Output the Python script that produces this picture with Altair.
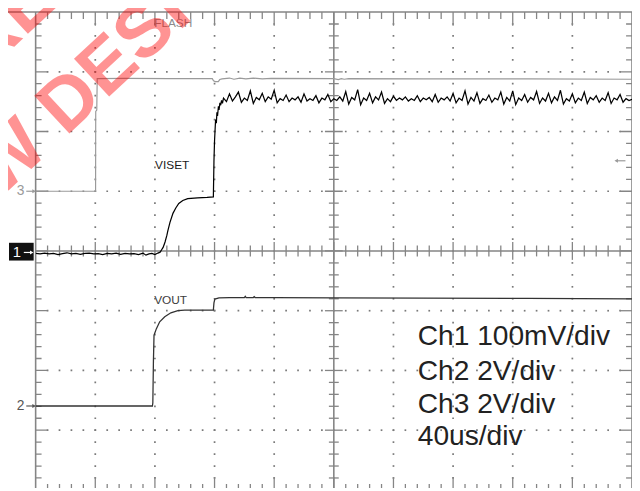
import altair as alt
import pandas as pd

# ---------------- scope settings ----------------
US_PER_DIV = 40           # 40us/div, 10 horizontal divisions
CH1_MV_PER_DIV = 100      # Ch1 100mV/div  (VISET)
CH2_V_PER_DIV = 2         # Ch2 2V/div     (VOUT)
CH3_V_PER_DIV = 2         # Ch3 2V/div     (FLASH)
CH1_ZERO_DIV = 0.0        # ground markers, divisions from screen centre
CH2_ZERO_DIV = -2.595
CH3_ZERO_DIV = 1.0

# ---------------- traces (time in us) ----------------
# Ch3 FLASH, volts
flash_t = [0, 40.2, 40.3, 41.0, 41.3, 60, 90, 118.5, 119.3, 120.5, 122.5, 123.5, 125,
           130, 133, 137, 141, 146, 152, 158, 200, 203, 205, 207, 210, 260, 330, 400]
flash_v = [0, 0, 2.67, 2.72, 3.77, 3.78, 3.77, 3.77, 3.70, 3.67, 3.67, 3.74, 3.76,
           3.79, 3.75, 3.79, 3.76, 3.79, 3.76, 3.78, 3.77, 3.74, 3.77, 3.75, 3.77, 3.76, 3.76, 3.75]

# Ch1 VISET, millivolts: baseline, soft-start ramp and fast step
viset_t = [0, 3, 6, 9, 12, 15, 18, 21, 24, 27, 30, 33, 36, 39, 42, 45, 48, 51, 54, 57,
           60, 63, 66, 69, 72, 74, 76, 78, 80, 82, 83.5,
           84.5, 85.5, 86.8, 88, 88.7, 90.1, 92.1, 94, 96, 98.7, 102, 108.6, 115, 119.2,
           119.6, 120.0, 120.3, 120.7, 121.2, 121.6, 122.0, 122.6, 123.0, 123.6, 124.1, 124.7, 125.3]
viset_mv = [-4, -5, -3.5, -5, -4, -6, -4.5, -3, -5, -4, -5.5, -4, -3.5, -5, -4.5, -6, -4, -5, -3.5, -5.5,
            -4, -5, -4.5, -6, -3.5, -7, -5, -4, -6, -3.5, -2,
            2, 6, 15, 26, 34, 48, 63, 72, 79.5, 84.5, 87.5, 89, 89.8, 90.6,
            150, 185, 200, 220, 214, 232, 226, 242, 236, 248, 244, 252, 247]
# Ch1 VISET settled ripple, one value every 2 us from 126 us to 400 us
viset_ripple_t0 = 126
viset_ripple_dt = 2
viset_ripple_mv = [
    256, 250, 263, 251, 258, 266, 249, 256, 252, 268, 247, 257, 253, 264, 250, 258, 254, 269, 248, 255,
    252, 261, 250, 256, 253, 258, 249, 263, 251, 255, 252, 260, 248, 256, 253, 262, 250, 255, 252, 258,
    251, 267, 246, 257, 253, 270, 245, 256, 252, 264, 248, 258, 253, 266, 247, 255, 250, 259, 252, 256,
    253, 258, 251, 255, 252, 260, 250, 256, 253, 257, 250, 262, 249, 256, 253, 258, 251, 264, 248, 256,
    252, 268, 246, 257, 251, 265, 247, 255, 252, 261, 249, 256, 253, 266, 246, 257, 251, 268, 245, 256,
    252, 262, 249, 257, 253, 267, 247, 256, 251, 264, 248, 258, 252, 269, 246, 255, 251, 263, 248, 256,
    252, 266, 247, 257, 253, 260, 249, 256, 252, 265, 247, 256, 253, 262, 249, 255, 252, 254,
]

# Ch2 VOUT, volts
vout_t = [0, 78.3, 78.6, 79.0, 79.4, 81, 83.2, 86.6, 90.7, 95.4, 100, 119.2, 119.6, 120.2, 123,
          130, 140, 140.6, 141.2, 146, 146.6, 147.2, 160, 200, 260, 330, 400]
vout_v = [0, 0, 0.1, 1.5, 2.37, 2.59, 2.82, 2.99, 3.12, 3.19, 3.21, 3.21, 3.45, 3.58, 3.62,
          3.63, 3.63, 3.67, 3.63, 3.63, 3.66, 3.63, 3.63, 3.62, 3.61, 3.60, 3.59]

# ---------------- texts ----------------
trace_labels = ["FLASH", "VISET", "VOUT"]
trace_label_t = [79.5, 80.1, 79.5]
trace_label_div = [3.75, 1.37, -0.89]
trace_label_colors = ["#8c8c8c", "#1a1a1a", "#3c3c3c"]

info_lines = ["Ch1 100mV/div", "Ch2 2V/div", "Ch3 2V/div", "40us/div"]
info_t = 256.3
info_div = [-1.577, -2.155, -2.706, -3.25]

watermark_lines = ["NOT RECOMMENDED FOR", "NEW DESIGNS"]
watermark_t = [-122.1, -75.8]
watermark_div = [0.912, -0.327]

# ---------------- layout ----------------
W, H = 604, 482
PXX = 60.4   # px per horizontal division
PXY = 60.5   # px per vertical division
UX = US_PER_DIV / PXX   # us per px
UY = 1.0 / PXY          # div per px
Y_TOP = 4.0
Y_MIN = Y_TOP - H / PXY
T_MAX = 10 * US_PER_DIV

xs = alt.Scale(domain=[0, T_MAX], nice=False, zero=False)
ys = alt.Scale(domain=[Y_MIN, Y_TOP], nice=False, zero=False)


def X(f="t"):
    return alt.X(f"{f}:Q", scale=xs, axis=None)


def Y(f="y"):
    return alt.Y(f"{f}:Q", scale=ys, axis=None)


GRID = "#858585"

# dotted graticule
dots = []
for k in [1, 2, 3, 4, 6, 7, 8, 9]:
    for j in range(1, 40):
        dots.append({"t": k * US_PER_DIV, "y": -4 + j * 0.2})
for m in [-3, -2, -1, 1, 2, 3]:
    for i in range(1, 50):
        dots.append({"t": i * US_PER_DIV / 5, "y": float(m)})
dots_df = pd.DataFrame(dots)

# tick marks on frame and centre cross
ticks = []
for j in range(1, 40):
    y = -4 + j * 0.2
    major = j % 5 == 0
    L = 12 if major else 6
    ticks.append({"t": 0, "t2": L * UX, "y": y, "y2": y})
    ticks.append({"t": T_MAX - L * UX, "t2": T_MAX, "y": y, "y2": y})
    h = 9 if major else 5
    ticks.append({"t": T_MAX / 2 - h * UX, "t2": T_MAX / 2 + h * UX, "y": y, "y2": y})
for i in range(1, 50):
    t = i * US_PER_DIV / 5
    major = i % 5 == 0
    L = 14 if major else 7
    ticks.append({"t": t, "t2": t, "y": 4, "y2": 4 - L * UY})
    L = 13 if major else 6
    ticks.append({"t": t, "t2": t, "y": -4, "y2": -4 + L * UY})
    h = 9 if major else 5.5
    ticks.append({"t": t, "t2": t, "y": -h * UY, "y2": h * UY})
ticks_df = pd.DataFrame(ticks)

frame_df = pd.DataFrame([
    {"t": 0, "t2": 0, "y": Y_MIN, "y2": 4},
    {"t": -28 * UX, "t2": T_MAX, "y": 4, "y2": 4},
    {"t": T_MAX, "t2": T_MAX, "y": Y_MIN, "y2": 4},
    {"t": T_MAX / 2, "t2": T_MAX / 2, "y": Y_MIN, "y2": 4},
    {"t": 0, "t2": T_MAX, "y": 0, "y2": 0},
])

layers = []
layers.append(alt.Chart(dots_df).mark_square(size=3, color="#7a7a7a", opacity=1, clip=True).encode(x=X(), y=Y()))
layers.append(alt.Chart(ticks_df).mark_rule(color=GRID, strokeWidth=1.3, clip=True).encode(
    x=X(), x2="t2:Q", y=Y(), y2="y2:Q"))
layers.append(alt.Chart(frame_df).mark_rule(color=GRID, strokeWidth=1.6).encode(
    x=X(), x2="t2:Q", y=Y(), y2="y2:Q"))


def trace(t, div, color, width):
    df = pd.DataFrame({"t": t, "y": div, "i": list(range(len(t)))})
    return alt.Chart(df).mark_line(color=color, strokeWidth=width, clip=True).encode(
        x=X(), y=Y(), order="i:Q")


flash_div = [CH3_ZERO_DIV + v / CH3_V_PER_DIV for v in flash_v]
ripple_t = [viset_ripple_t0 + viset_ripple_dt * i for i in range(len(viset_ripple_mv))]
viset_all_t = viset_t + ripple_t
viset_div = [CH1_ZERO_DIV + v / CH1_MV_PER_DIV for v in viset_mv + viset_ripple_mv]
vout_div = [CH2_ZERO_DIV + v / CH2_V_PER_DIV for v in vout_v]

layers.append(trace(flash_t, flash_div, "#9a9a9a", 1.2))
layers.append(trace(vout_t, vout_div, "#333333", 1.3))
layers.append(trace(viset_all_t, viset_div, "#000000", 1.25))

# trace labels
lab_df = pd.DataFrame({"t": trace_label_t, "y": trace_label_div, "s": trace_labels, "c": trace_label_colors})
layers.append(alt.Chart(lab_df).mark_text(font="Liberation Sans", fontSize=12, align="left",
                                           baseline="alphabetic").encode(
    x=X(), y=Y(), text="s:N", color=alt.Color("c:N", scale=None)))

# channel ground markers
mk_df = pd.DataFrame({"t": [-7.5, -7.5], "y": [CH3_ZERO_DIV, CH2_ZERO_DIV], "s": ["3", "2"],
                      "c": ["#9a9a9a", "#555555"]})
layers.append(alt.Chart(mk_df).mark_text(font="Liberation Sans", fontSize=14, align="right",
                                          baseline="middle").encode(
    x=X(), y=Y(), text="s:N", color=alt.Color("c:N", scale=None)))
arr_df = pd.DataFrame({"t": [-6.3, -6.3], "t2": [-1.0, -1.0], "y": [CH3_ZERO_DIV, CH2_ZERO_DIV],
                       "c": ["#9a9a9a", "#555555"]})
layers.append(alt.Chart(arr_df).mark_rule(strokeWidth=1.2).encode(
    x=X(), x2="t2:Q", y=Y(), color=alt.Color("c:N", scale=None)))
layers.append(alt.Chart(arr_df).mark_point(shape="triangle-right", filled=True, size=18, opacity=1).encode(
    x=alt.X("t2:Q", scale=xs, axis=None), y=Y(), color=alt.Color("c:N", scale=None)))

# ch1 marker (inverted box)
box_df = pd.DataFrame({"t": [-27 * UX], "t2": [-2 * UX], "y": [8.3 * UY], "y2": [-9.7 * UY]})
layers.append(alt.Chart(box_df).mark_rect(color="#111111").encode(x=X(), x2="t2:Q", y=Y(), y2="y2:Q"))
one_df = pd.DataFrame({"t": [-19 * UX], "y": [CH1_ZERO_DIV - 1.2 * UY], "s": ["1"]})
layers.append(alt.Chart(one_df).mark_text(font="Liberation Sans", fontSize=15, color="white",
                                           align="center", baseline="middle").encode(
    x=X(), y=Y(), text="s:N"))
a1_df = pd.DataFrame({"t": [-12 * UX], "t2": [-4 * UX], "y": [CH1_ZERO_DIV - 1.5 * UY]})
layers.append(alt.Chart(a1_df).mark_rule(color="white", strokeWidth=1.2).encode(x=X(), x2="t2:Q", y=Y()))
layers.append(alt.Chart(a1_df).mark_point(shape="triangle-right", filled=True, size=16, color="white",
                                          opacity=1).encode(x=alt.X("t2:Q", scale=xs, axis=None), y=Y()))

# trigger arrow at right edge
trg_df = pd.DataFrame({"t": [389.4], "t2": [395.6], "y": [1.51]})
layers.append(alt.Chart(trg_df).mark_rule(color="#9a9a9a", strokeWidth=1.2).encode(x=X(), x2="t2:Q", y=Y()))
layers.append(alt.Chart(trg_df).mark_point(shape="triangle-left", filled=True, size=16, color="#9a9a9a",
                                           opacity=1).encode(x=X(), y=Y()))

# scale information
info_df = pd.DataFrame({"t": [info_t] * len(info_lines), "y": info_div, "s": info_lines})
layers.append(alt.Chart(info_df).mark_text(font="Liberation Sans", fontSize=28.5, color="#222222",
                                            align="left", baseline="alphabetic").encode(
    x=X(), y=Y(), text="s:N"))

# watermark
wm_df = pd.DataFrame({"t": watermark_t, "y": watermark_div, "s": watermark_lines})
layers.append(alt.Chart(wm_df).mark_text(font="Liberation Sans", fontWeight="bold", fontSize=76,
                                          angle=317, align="left", baseline="alphabetic",
                                          color="#ff0000", opacity=0.42).encode(
    x=X(), y=Y(), text="s:N"))

chart = alt.layer(*layers).properties(
    width=W, height=H,
    autosize=alt.AutoSizeParams(type="none"),
    padding={"left": 28, "top": 1, "right": 0, "bottom": 0},
    background="white",
).configure_view(stroke=None)

chart.save("out.html", embed_options={"renderer": "svg", "actions": False})
